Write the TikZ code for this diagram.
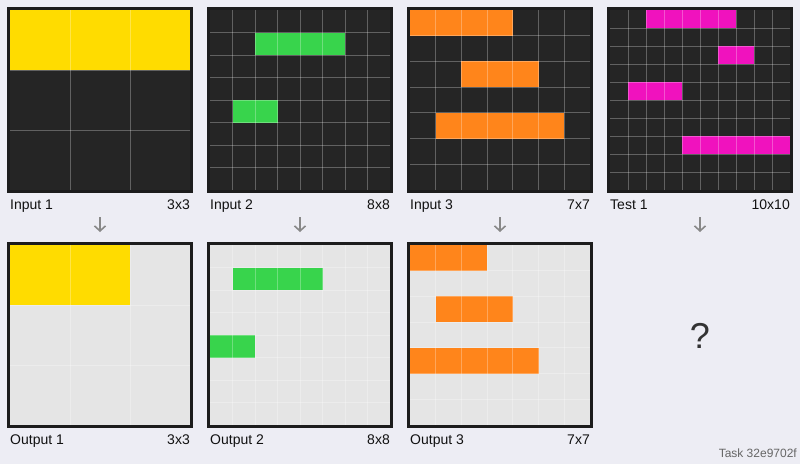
\documentclass[tikz,border=0pt]{standalone}
\usepackage{fontspec}
\setmainfont{Liberation Sans}
\usetikzlibrary{arrows.meta}
\definecolor{pagebg}{HTML}{EDEDF4}
\definecolor{cellbg}{HTML}{252525}
\definecolor{outbg}{HTML}{E5E5E5}
\definecolor{boxline}{HTML}{1C1C1C}
\definecolor{arcyellow}{HTML}{FFDC00}
\definecolor{arcgreen}{HTML}{38D44C}
\definecolor{arcorange}{HTML}{FF851B}
\definecolor{arcmagenta}{HTML}{F012BE}
\definecolor{arrowgray}{HTML}{888888}
\definecolor{labeltext}{HTML}{111111}
\definecolor{qtext}{HTML}{333333}
\definecolor{tasktext}{HTML}{666666}
\tikzset{
  panelbox/.style={draw=boxline, line width=3pt, minimum size=183pt, inner sep=0pt, outer sep=0pt, fill=none},
  gridline/.style={white, opacity=0.28, line width=0.9pt},
  lbl/.style={font=\fontsize{14}{16}\selectfont, text=labeltext, inner sep=0pt},
  flow/.style={draw=arrowgray, line width=1.6pt, -{Straight Barb[length=5pt,width=11pt,line width=1.6pt]}},
}
% #1 name, #2 x0, #3 y0, #4 n, #5 bg, #6 colour, #7 cells r/c1/c2
\newcommand\arcgrid[7]{%
  \begin{scope}[shift={(#2,#3)}]
    \pgfmathsetmacro\cs{180/#4}
    \pgfmathtruncatemacro\nm{#4-1}
    \fill[#5] (0,0) rectangle (180,180);
    \foreach \r/\a/\b in {#7} {
      \fill[#6] ({\a*\cs},{\r*\cs}) rectangle ({(\b+1)*\cs},{(\r+1)*\cs});
    }
    \foreach \i in {1,...,\nm} {
      \draw[gridline] ({\i*\cs},0) -- ({\i*\cs},180);
      \draw[gridline] (0,{\i*\cs}) -- (180,{\i*\cs});
    }
  \end{scope}
  \node[panelbox] (#1) at ({#2+90},{#3+90}) {};
}
\begin{document}
\begin{tikzpicture}[x=1pt,y=-1pt]
  \fill[pagebg] (0,0) rectangle (800,464);
  \useasboundingbox (0,0) rectangle (800,464);

  % top row
  \arcgrid{in1}{10}{10}{3}{cellbg}{arcyellow}{0/0/2}
  \arcgrid{in2}{210}{10}{8}{cellbg}{arcgreen}{1/2/5, 4/1/2}
  \arcgrid{in3}{410}{10}{7}{cellbg}{arcorange}{0/0/3, 2/2/4, 4/1/5}
  \arcgrid{test1}{610}{10}{10}{cellbg}{arcmagenta}{0/2/6, 2/6/7, 4/1/3, 7/4/9}

  % bottom row
  \arcgrid{out1}{10}{245}{3}{outbg}{arcyellow}{0/0/1}
  \arcgrid{out2}{210}{245}{8}{outbg}{arcgreen}{1/1/4, 4/0/1}
  \arcgrid{out3}{410}{245}{7}{outbg}{arcorange}{0/0/2, 2/1/3, 4/0/4}

  % labels
  \node[lbl, anchor=base west] (lin1) at (10,209) {Input 1};
  \node[lbl, anchor=base east] (sin1) at (190,209) {3x3};
  \node[lbl, anchor=base west] (lin2) at (210,209) {Input 2};
  \node[lbl, anchor=base east] (sin2) at (390,209) {8x8};
  \node[lbl, anchor=base west] (lin3) at (410,209) {Input 3};
  \node[lbl, anchor=base east] (sin3) at (590,209) {7x7};
  \node[lbl, anchor=base west] (ltest1) at (610,209) {Test 1};
  \node[lbl, anchor=base east] (stest1) at (790,209) {10x10};

  \node[lbl, anchor=base west] (lout1) at (10,444) {Output 1};
  \node[lbl, anchor=base east] (sout1) at (190,444) {3x3};
  \node[lbl, anchor=base west] (lout2) at (210,444) {Output 2};
  \node[lbl, anchor=base east] (sout2) at (390,444) {8x8};
  \node[lbl, anchor=base west] (lout3) at (410,444) {Output 3};
  \node[lbl, anchor=base east] (sout3) at (590,444) {7x7};

  % arrows
  \foreach \k/\x in {1/100, 2/300, 3/500, 4/700} {
    \coordinate (at\k) at (\x,217);
    \coordinate (ab\k) at (\x,232);
    \draw[flow] (at\k) -- (ab\k);
  }

  % unknown test output
  \node[font=\fontsize{36}{40}\selectfont, text=qtext, inner sep=0pt] (q) at (700,336) {?};

  % task id
  \node[font=\fontsize{12}{14}\selectfont, text=tasktext, inner sep=0pt, anchor=base east] (task) at (797,457) {Task 32e9702f};
\end{tikzpicture}
\end{document}
